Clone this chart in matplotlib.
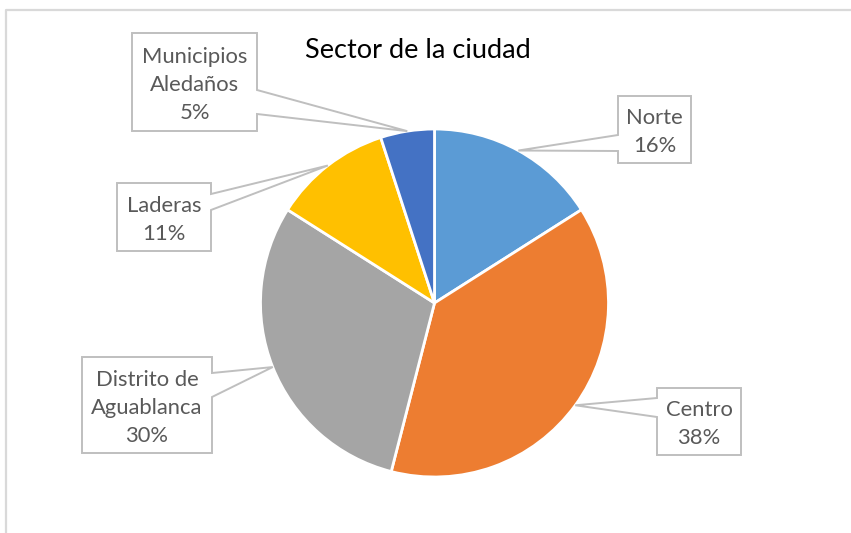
import numpy as np
import matplotlib.pyplot as plt
from matplotlib.patches import Polygon

# Datos del gráfico
sectores = ["Norte", "Centro", "Distrito de\nAguablanca", "Laderas", "Municipios\nAledaños"]
porcentajes = [16, 38, 30, 11, 5]
colores = ["#5B9BD5", "#ED7D31", "#A5A5A5", "#FFC000", "#4472C4"]

# Tamaño de la figura en píxeles
W, H = 851, 533

# Posición del pastel (en píxeles, y hacia abajo)
cx, cy, R = 434.5, 303, 174

# Cajas de etiquetas: x0, x1, y0, y1, lado de la flecha, inicio y fin de la flecha
cajas = [
    (618, 691, 96, 163, "left", 135, 151),
    (657, 741, 388, 455, "left", 398, 417),
    (82, 212, 357, 453, "right", 373, 397),
    (117, 211, 183, 251, "right", 194, 210),
    (132, 257, 33, 131, "right", 90, 114),
]

fuente = "Lato"
gris_texto = "#595959"
gris_borde = "#BFBFBF"

fig = plt.figure(figsize=(W / 100, H / 100), dpi=100)
ax = fig.add_axes([0, 0, 1, 1])


def py(y):
    # convierte y de píxeles (hacia abajo) a coordenadas del eje
    return H - y


# Marco del área del gráfico
ax.plot([5.5, 5.5, W], [0, py(9.5), py(9.5)], color="#D9D9D9", lw=1.6, solid_capstyle="butt")

# Pastel, en sentido horario desde arriba
wedges, _ = ax.pie(porcentajes, colors=colores, startangle=90, counterclock=False,
                   center=(cx, py(cy)), radius=R, frame=True,
                   wedgeprops=dict(edgecolor="white", linewidth=2))
ax.set_xlim(0, W)
ax.set_ylim(0, H)
ax.set_aspect("auto")
ax.axis("off")

# Etiquetas con caja y flecha hacia el centro de cada sector
for w, nombre, pct, caja in zip(wedges, sectores, porcentajes, cajas):
    x0, x1, y0, y1, lado, pa, pb = caja
    ang = np.deg2rad((w.theta1 + w.theta2) / 2)
    tx = cx + R * np.cos(ang)
    ty = py(cy) + R * np.sin(ang)
    if lado == "right":
        pts = [(x0, py(y0)), (x1, py(y0)), (x1, py(pa)), (tx, ty), (x1, py(pb)),
               (x1, py(y1)), (x0, py(y1))]
    else:
        pts = [(x0, py(y0)), (x1, py(y0)), (x1, py(y1)), (x0, py(y1)), (x0, py(pb)),
               (tx, ty), (x0, py(pa))]
    ax.add_patch(Polygon(pts, closed=True, facecolor="white", edgecolor=gris_borde,
                         lw=1.4, zorder=3))
    ax.text((x0 + x1) / 2, py((y0 + y1) / 2 + 3), f"{nombre}\n{pct}%", ha="center",
            va="center", fontsize=15.8, family=fuente, color=gris_texto,
            linespacing=1.5, zorder=4)

# Título
ax.text(418, py(50), "Sector de la ciudad", ha="center", va="center", fontsize=19.5,
        family=fuente, color="black")

plt.savefig("out.png", dpi=100)
